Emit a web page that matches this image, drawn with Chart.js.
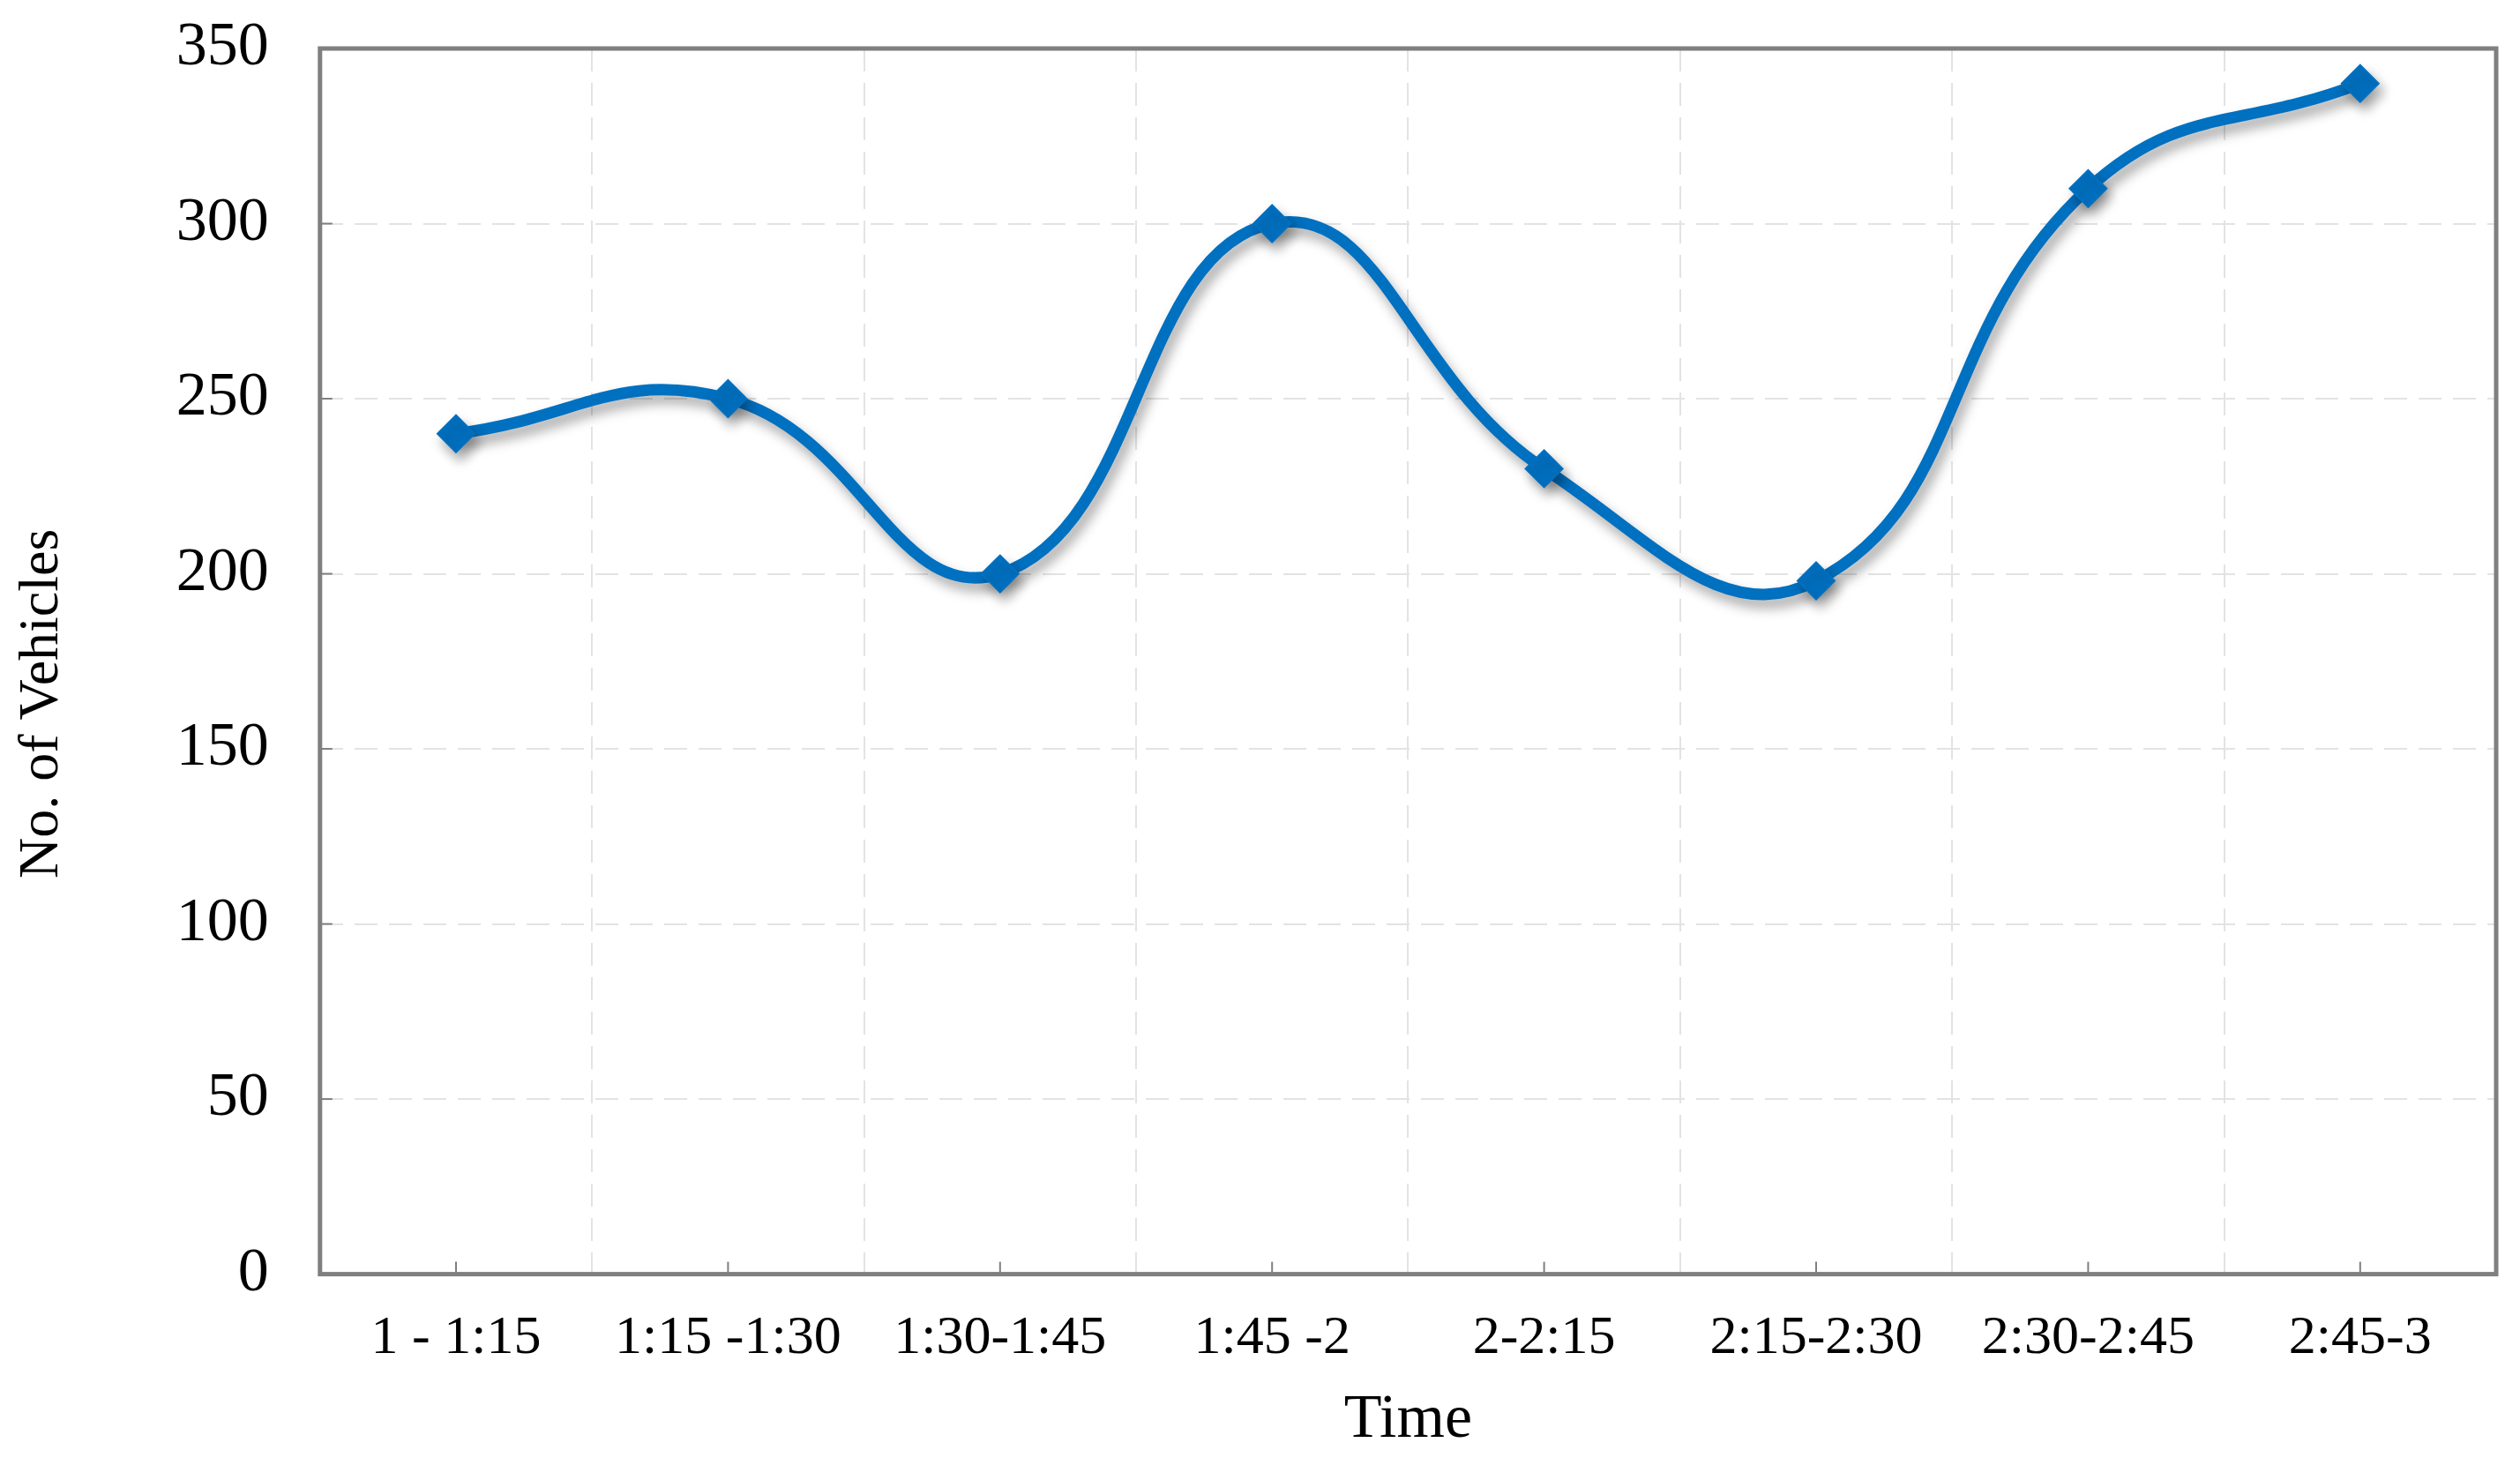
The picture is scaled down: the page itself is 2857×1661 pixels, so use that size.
<!DOCTYPE html>
<html>
<head>
<meta charset="utf-8">
<script src="https://cdn.jsdelivr.net/npm/chart.js@4.4.1/dist/chart.umd.min.js"></script>
<style>
  html, body { margin: 0; padding: 0; background: #fff; }
  #wrap { width: 2857px; height: 1661px; }
</style>
</head>
<body>
<div id="wrap"><canvas id="chart"></canvas></div>
<script>
// data
const timeSlots = ['1 - 1:15', '1:15 -1:30', '1:30-1:45', '1:45 -2', '2-2:15', '2:15-2:30', '2:30-2:45', '2:45-3'];
const vehicles = [240, 250, 200, 300, 230, 198, 310, 340];
const yMin = 0;
const yMax = 350;
const yStep = 50;

const blue = '#0070C0';
const frameGray = '#7f7f7f';

// soft shadow under the line (like the office chart)
const shadowPlugin = {
  id: 'lineShadow',
  beforeDatasetsDraw(chart) {
    const c = chart.ctx;
    c.save();
    c.shadowColor = 'rgba(0,0,0,0.35)';
    c.shadowBlur = 14;
    c.shadowOffsetX = 5;
    c.shadowOffsetY = 9;
  },
  afterDatasetsDraw(chart) {
    chart.ctx.restore();
  }
};

// box round the plot and small inner tick marks
const framePlugin = {
  id: 'frame',
  afterDraw(chart) {
    const c = chart.ctx;
    const a = chart.chartArea;
    const x = chart.scales.x, y = chart.scales.y;
    c.save();
    c.strokeStyle = frameGray;
    c.lineWidth = 2;
    for (let i = 0; i < y.ticks.length; i++) {
      const py = y.getPixelForTick(i);
      c.beginPath(); c.moveTo(a.left, py); c.lineTo(a.left + 14, py); c.stroke();
    }
    for (let i = 0; i < timeSlots.length; i++) {
      const px = x.getPixelForValue(i);
      c.beginPath(); c.moveTo(px, a.bottom); c.lineTo(px, a.bottom - 14); c.stroke();
    }
    c.lineWidth = 5;
    c.strokeRect(a.left, a.top, a.right - a.left, a.bottom - a.top);
    c.restore();
  }
};

new Chart(document.getElementById('chart'), {
  type: 'line',
  data: {
    labels: timeSlots,
    datasets: [{
      label: 'No. of Vehicles',
      data: vehicles,
      borderColor: blue,
      backgroundColor: blue,
      borderWidth: 13,
      tension: 0.45,
      pointStyle: 'rectRot',
      pointRadius: 21,
      pointBorderWidth: 2,
      pointBackgroundColor: blue,
      pointBorderColor: blue
    }]
  },
  options: {
    responsive: true,
    maintainAspectRatio: false,
    animation: false,
    layout: { padding: { left: 10, right: 27, top: 55, bottom: 8 } },
    plugins: {
      legend: { display: false },
      tooltip: { enabled: false }
    },
    scales: {
      x: {
        offset: true,
        grid: {
          offset: true,
          color: '#e3e3e3',
          lineWidth: 2,
          drawTicks: false
        },
        border: { display: false, dash: [26, 13] },
        ticks: {
          color: '#000',
          padding: 36,
          maxRotation: 0,
          font: { family: 'Liberation Serif', size: 62 }
        },
        title: {
          display: true,
          text: 'Time',
          color: '#000',
          padding: { top: -22, bottom: 0 },
          font: { family: 'Liberation Serif', size: 70 }
        }
      },
      y: {
        min: yMin,
        max: yMax,
        afterFit(scale) {
          // let the top label hang over the padding
          scale.paddingTop = 0;
          scale.paddingBottom = 0;
        },
        grid: {
          color: '#e3e3e3',
          lineWidth: 2,
          drawTicks: false
        },
        border: { display: false, dash: [26, 13] },
        ticks: {
          stepSize: yStep,
          color: '#000',
          padding: 58,
          font: { family: 'Liberation Serif', size: 70 }
        },
        title: {
          display: true,
          // trailing spaces push the title a bit lower, as in the original
          text: 'No. of Vehicles      ',
          color: '#000',
          padding: { top: 0, bottom: 55 },
          font: { family: 'Liberation Serif', size: 64 }
        }
      }
    }
  },
  plugins: [shadowPlugin, framePlugin]
});
</script>
</body>
</html>
